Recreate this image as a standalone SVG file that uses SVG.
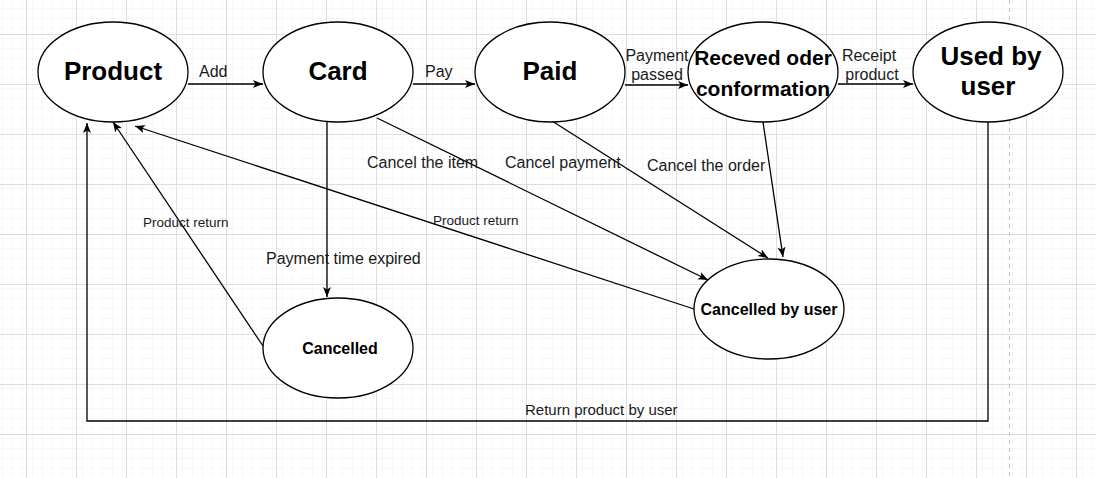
<svg xmlns="http://www.w3.org/2000/svg" width="1096" height="478" viewBox="0 0 1096 478">
<style>
.node ellipse{fill:#fff;stroke:#000;stroke-width:1.3}
.nt{font-family:"Liberation Sans",Arial,Helvetica,sans-serif;font-weight:bold;fill:#000;text-anchor:middle}
.edge{fill:none;stroke:#000;stroke-width:1.3}
.lbl{font-family:"Liberation Sans",Arial,Helvetica,sans-serif;font-size:16px;fill:#1a1a1a}
.sm{font-size:13.5px}
</style>
<defs>
<pattern id="minor" patternUnits="userSpaceOnUse" x="6" y="4" width="10" height="10">
<path d="M0,0 H10 M0,0 V10" fill="none" stroke="#f0f0f0" stroke-width="1"/>
</pattern>
<pattern id="major" patternUnits="userSpaceOnUse" x="26" y="34" width="50" height="50">
<rect width="50" height="50" fill="url(#minor)"/>
<path d="M0,0.5 H50 M0.5,0 V50" fill="none" stroke="#dedede" stroke-width="1"/>
</pattern>
<marker id="arr" markerUnits="userSpaceOnUse" markerWidth="12" markerHeight="10" refX="10" refY="4" orient="auto">
<path d="M0,0 L10,4 L0,8 L2.5,4 Z" fill="#000"/>
</marker>
</defs>
<rect width="1096" height="478" fill="#fff"/>
<rect width="1096" height="478" fill="url(#major)"/>
<line x1="1009.5" y1="0" x2="1009.5" y2="478" stroke="#c0c0c0" stroke-width="1" stroke-dasharray="4,4"/>

<g id="connectors">
<path class="edge" d="M188,84 L263,84" marker-end="url(#arr)"/>
<path class="edge" d="M413,84 L475,84" marker-end="url(#arr)"/>
<path class="edge" d="M625,85 L688,85" marker-end="url(#arr)"/>
<path class="edge" d="M838,84 L913,84" marker-end="url(#arr)"/>
<path class="edge" d="M327,122 L327,297" marker-end="url(#arr)"/>
<path class="edge" d="M377,118 L708,280" marker-end="url(#arr)"/>
<path class="edge" d="M552,121 L768,258" marker-end="url(#arr)"/>
<path class="edge" d="M763,122 L783,257" marker-end="url(#arr)"/>
<path class="edge" d="M263,346 L113,122" marker-end="url(#arr)"/>
<path class="edge" d="M694,309 L135,126" marker-end="url(#arr)"/>
<path class="edge" d="M988,122 L988,421 L87,421 L87,123" marker-end="url(#arr)"/>
<text class="lbl" x="199" y="77">Add</text>
<text class="lbl" x="425" y="77">Pay</text>
<text class="lbl" x="657" y="61" text-anchor="middle">Payment</text>
<text class="lbl" x="657" y="80" text-anchor="middle">passed</text>
<text class="lbl" x="869" y="61" text-anchor="middle">Receipt</text>
<text class="lbl" x="872" y="80" text-anchor="middle">product</text>
<text class="lbl" x="367" y="168">Cancel the item</text>
<text class="lbl" x="505" y="168">Cancel payment</text>
<text class="lbl" x="647" y="171">Cancel the order</text>
<text class="lbl" x="266" y="264">Payment time expired</text>
<text class="lbl sm" x="143" y="227" fill="#3a1a3a">Product return</text>
<text class="lbl sm" x="433" y="225">Product return</text>
<text class="lbl" x="525" y="415" style="font-size:15px">Return product by user</text>
</g>

<g id="product" class="node">
<ellipse cx="113" cy="72" rx="75" ry="50"/>
<text class="nt" x="113" y="80" font-size="26">Product</text>
</g>
<g id="card" class="node">
<ellipse cx="338" cy="72" rx="75" ry="50"/>
<text class="nt" x="338" y="80" font-size="26">Card</text>
</g>
<g id="paid" class="node">
<ellipse cx="550" cy="72" rx="75" ry="50"/>
<text class="nt" x="550" y="80" font-size="26">Paid</text>
</g>
<g id="received" class="node">
<ellipse cx="763" cy="72" rx="75" ry="50"/>
<text class="nt" x="763" y="65" font-size="21">Receved oder</text>
<text class="nt" x="763" y="96" font-size="21">conformation</text>
</g>
<g id="used" class="node">
<ellipse cx="988" cy="72" rx="75" ry="50"/>
<text class="nt" x="991" y="65" font-size="26">Used by</text>
<text class="nt" x="988" y="95" font-size="26">user</text>
</g>
<g id="cancelled-by-user" class="node">
<ellipse cx="769" cy="309" rx="75" ry="50"/>
<text class="nt" x="769" y="315" font-size="16">Cancelled by user</text>
</g>
<g id="cancelled" class="node">
<ellipse cx="338" cy="348" rx="75" ry="50"/>
<text class="nt" x="340" y="354" font-size="16">Cancelled</text>
</g>
</svg>
